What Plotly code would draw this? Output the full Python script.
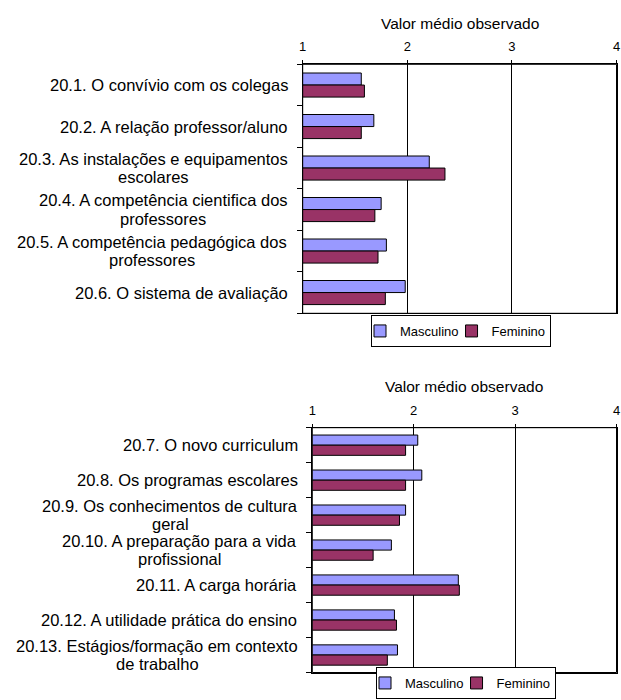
import plotly.graph_objects as go

# --- data -------------------------------------------------------------
labels_a = [
    "20.1. O convívio com os colegas",
    "20.2. A relação professor/aluno",
    "20.3. As instalações e equipamentos\nescolares",
    "20.4. A competência cientifica dos\nprofessores",
    "20.5. A competência pedagógica dos\nprofessores",
    "20.6. O sistema de avaliação",
]
masc_a = [1.56, 1.68, 2.21, 1.75, 1.80, 1.98]
fem_a = [1.59, 1.56, 2.36, 1.69, 1.72, 1.79]

labels_b = [
    "20.7. O novo curriculum",
    "20.8. Os programas escolares",
    "20.9. Os conhecimentos de cultura\ngeral",
    "20.10. A preparação para a vida\nprofissional",
    "20.11. A carga horária",
    "20.12. A utilidade prática do ensino",
    "20.13. Estágios/formação em contexto\nde trabalho",
]
masc_b = [2.04, 2.08, 1.92, 1.78, 2.44, 1.81, 1.84]
fem_b = [1.92, 1.92, 1.86, 1.60, 2.45, 1.83, 1.74]

x_ticks = [1, 2, 3, 4]
axis_title = "Valor médio observado"
series_names = ["Masculino", "Feminino"]
colors = ["#9999FF", "#993366"]

FONT = "Arial, Liberation Sans, sans-serif"
W, H = 621, 700
LABEL_SIZE = 16.5
LINE_PITCH = 18.5
LABEL_GAP = 14.5
RIGHT = 616.5  # right edge of both plot areas, px

# Arial / Liberation Sans advance widths (1/1000 em), used to centre the
# wrapped lines of each category label under one another.
ARIAL_WIDTHS = {
    " ": 278, ".": 278, "/": 278, "A": 667, "E": 667, "O": 778, "S": 667,
    "a": 556, "b": 556, "c": 500, "d": 556, "e": 556, "f": 278, "g": 556,
    "h": 556, "i": 222, "j": 222, "k": 500, "l": 222, "m": 833, "n": 556,
    "o": 556, "p": 556, "q": 556, "r": 333, "s": 500, "t": 278, "u": 556,
    "v": 500, "w": 722, "x": 500, "y": 500, "z": 500, "á": 556, "ã": 556,
    "ç": 500, "é": 556, "ê": 556, "í": 278, "ó": 556, "õ": 556,
}


def text_width(s, size):
    return sum(ARIAL_WIDTHS.get(ch, 556) for ch in s) * size / 1000.0


fig = go.Figure()


def add_panel(labels, masc, fem, xa, ya, legend):
    idx = list(range(len(labels)))
    for name, vals, col in zip(series_names, [masc, fem], colors):
        fig.add_trace(go.Bar(
            y=idx, x=vals, name=name, orientation="h",
            marker=dict(color=col, line=dict(color="#000000", width=1)),
            xaxis=xa, yaxis=ya, legend=legend,
        ))
    # category labels, wrapped lines centred on each other
    for i, lab in enumerate(labels):
        lines = lab.split("\n")
        widths = [text_width(t, LABEL_SIZE) for t in lines]
        block = max(widths)
        n = len(lines)
        for k, line in enumerate(lines):
            fig.add_annotation(
                text=line, x=0, xref=xa + " domain", xanchor="center",
                xshift=-LABEL_GAP - block / 2.0,
                y=i, yref=ya, yanchor="middle",
                yshift=((n - 1) / 2.0 - k) * LINE_PITCH,
                showarrow=False, borderpad=0, borderwidth=0,
                font=dict(family=FONT, size=LABEL_SIZE, color="#000000"),
            )
    fig.add_annotation(
        text=axis_title, x=0.5, xref=xa + " domain", xanchor="center",
        y=1, yref=ya + " domain", yanchor="middle", yshift=41,
        showarrow=False, font=dict(family=FONT, size=15.5, color="#000000"),
    )
    # plot-area frame
    fig.add_shape(type="rect", xref=xa + " domain", yref=ya + " domain",
                  x0=0, x1=1, y0=0, y1=1, layer="above",
                  line=dict(color="#000000", width=1))


add_panel(labels_a, masc_a, fem_a, "x", "y", "legend")
add_panel(labels_b, masc_b, fem_b, "x2", "y2", "legend2")

xcommon = dict(
    range=[1, 4], side="top", tickvals=x_ticks, ticks="outside", ticklen=3,
    tickcolor="#000000", showgrid=True, gridcolor="#000000", gridwidth=1,
    showline=True, linecolor="#000000", linewidth=1, mirror=True,
    zeroline=False, tickfont=dict(family=FONT, size=13, color="#000000"),
    ticklabelstandoff=4, fixedrange=True,
)
ycommon = dict(
    type="linear", tickmode="array", showticklabels=False, ticks="outside",
    ticklen=5, tickcolor="#000000", showgrid=False, showline=True,
    linecolor="#000000", linewidth=1, mirror=True, zeroline=False,
    fixedrange=True,
)
legcommon = dict(
    orientation="h", xanchor="center",
    bordercolor="#000000", borderwidth=1, bgcolor="#FFFFFF",
    itemwidth=30, indentation=-12, traceorder="normal",
    font=dict(family=FONT, size=13, color="#000000"),
)

fig.update_layout(
    width=W, height=H,
    margin=dict(l=0, r=0, t=0, b=0, autoexpand=False),
    paper_bgcolor="#FFFFFF", plot_bgcolor="#FFFFFF",
    barmode="group", bargap=0.42, bargroupgap=0,
    font=dict(family=FONT, color="#000000"),
    xaxis=dict(domain=[302.7 / W, RIGHT / W], anchor="y", **xcommon),
    yaxis=dict(domain=[1 - 313.3 / H, 1 - 64.3 / H], anchor="x",
               range=[len(labels_a) - 0.5, -0.5],
               tickvals=[i - 0.5 for i in range(len(labels_a) + 1)],
               **ycommon),
    xaxis2=dict(domain=[312.3 / W, RIGHT / W], anchor="y2", **xcommon),
    yaxis2=dict(domain=[1 - 672.5 / H, 1 - 427.7 / H], anchor="x2",
                range=[len(labels_b) - 0.5, -0.5],
                tickvals=[i - 0.5 for i in range(len(labels_b) + 1)],
                **ycommon),
    legend=dict(x=461 / W, y=1 - 331 / H, yanchor="middle", **legcommon),
    legend2=dict(x=466 / W, y=1 / H, yanchor="bottom", **legcommon),
    showlegend=True,
)

fig.write_html("out.html")
